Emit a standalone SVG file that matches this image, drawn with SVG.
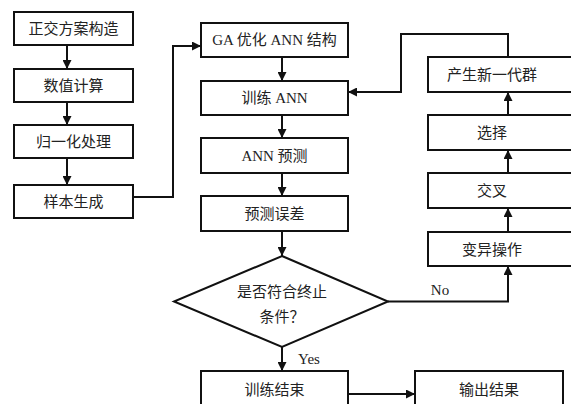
<svg xmlns="http://www.w3.org/2000/svg" width="571" height="404" viewBox="0 0 571 404">
<style>
.b{fill:#fff;stroke:#111;stroke-width:2}
.t{font-family:"Liberation Serif","Noto Sans CJK SC",serif;font-size:15px;fill:#222;text-anchor:middle}
.c{fill:none;stroke:#111;stroke-width:2}
</style>
<defs>
<marker id="a" viewBox="0 0 10 10" refX="10" refY="5" markerWidth="4.5" markerHeight="4.5" orient="auto" markerUnits="strokeWidth">
<path d="M0,0L10,5L0,10z" fill="#111"/>
</marker>
</defs>
<rect width="571" height="404" fill="#fff"/>
<g id="n1"><rect class="b" x="14" y="12" width="119" height="33"/><text class="t" x="73.5" y="34">正交方案构造</text></g>
<g id="n2"><rect class="b" x="14" y="69" width="119" height="33"/><text class="t" x="73.5" y="91">数值计算</text></g>
<g id="n3"><rect class="b" x="14" y="125" width="119" height="33"/><text class="t" x="73.5" y="147">归一化处理</text></g>
<g id="n4"><rect class="b" x="14" y="185" width="119" height="33"/><text class="t" x="73.5" y="207">样本生成</text></g>
<g id="n5"><rect class="b" x="201" y="23" width="147" height="34"/><text class="t" x="274.5" y="45">GA 优化 ANN 结构</text></g>
<g id="n6"><rect class="b" x="201" y="81" width="147" height="34"/><text class="t" x="274.5" y="103">训练 ANN</text></g>
<g id="n7"><rect class="b" x="201" y="138" width="147" height="35"/><text class="t" x="274.5" y="161">ANN 预测</text></g>
<g id="n8"><rect class="b" x="201" y="196" width="147" height="35"/><text class="t" x="274.5" y="219">预测误差</text></g>
<g id="n9"><path class="b" d="M282,256L388,301.5L282,347L174,301.5Z"/><text class="t" x="282" y="297">是否符合终止</text><text class="t" x="282" y="322">条件？</text></g>
<g id="n10"><rect class="b" x="201" y="371" width="147" height="40"/><text class="t" x="274.5" y="395">训练结束</text></g>
<g id="n11"><rect class="b" x="415" y="371" width="148" height="40"/><text class="t" x="489" y="395">输出结果</text></g>
<g id="n12"><rect class="b" x="428" y="57" width="150" height="35"/><text class="t" x="492" y="80">产生新一代群</text></g>
<g id="n13"><rect class="b" x="428" y="115" width="150" height="35"/><text class="t" x="492" y="138">选择</text></g>
<g id="n14"><rect class="b" x="428" y="173" width="150" height="35"/><text class="t" x="492" y="196">交叉</text></g>
<g id="n15"><rect class="b" x="428" y="232" width="150" height="34"/><text class="t" x="492" y="255">变异操作</text></g>
<g id="edges">
<path class="c" d="M67,45V69" marker-end="url(#a)"/>
<path class="c" d="M67,102V125" marker-end="url(#a)"/>
<path class="c" d="M67,158V185" marker-end="url(#a)"/>
<path class="c" d="M133,197H173V46H201" marker-end="url(#a)"/>
<path class="c" d="M282,57V81" marker-end="url(#a)"/>
<path class="c" d="M282,115V138" marker-end="url(#a)"/>
<path class="c" d="M282,173V196" marker-end="url(#a)"/>
<path class="c" d="M282,231V256" marker-end="url(#a)"/>
<path class="c" d="M282,347V371" marker-end="url(#a)"/>
<path class="c" d="M348,394H415" marker-end="url(#a)"/>
<path class="c" d="M388,301.5H508V266" marker-end="url(#a)"/>
<path class="c" d="M508,232V208" marker-end="url(#a)"/>
<path class="c" d="M508,173V150" marker-end="url(#a)"/>
<path class="c" d="M508,115V92" marker-end="url(#a)"/>
<path class="c" d="M508,57V34H401V92H348" marker-end="url(#a)"/>
<text class="t" x="440" y="295">No</text>
<text class="t" x="309" y="364">Yes</text>
</g>
</svg>
